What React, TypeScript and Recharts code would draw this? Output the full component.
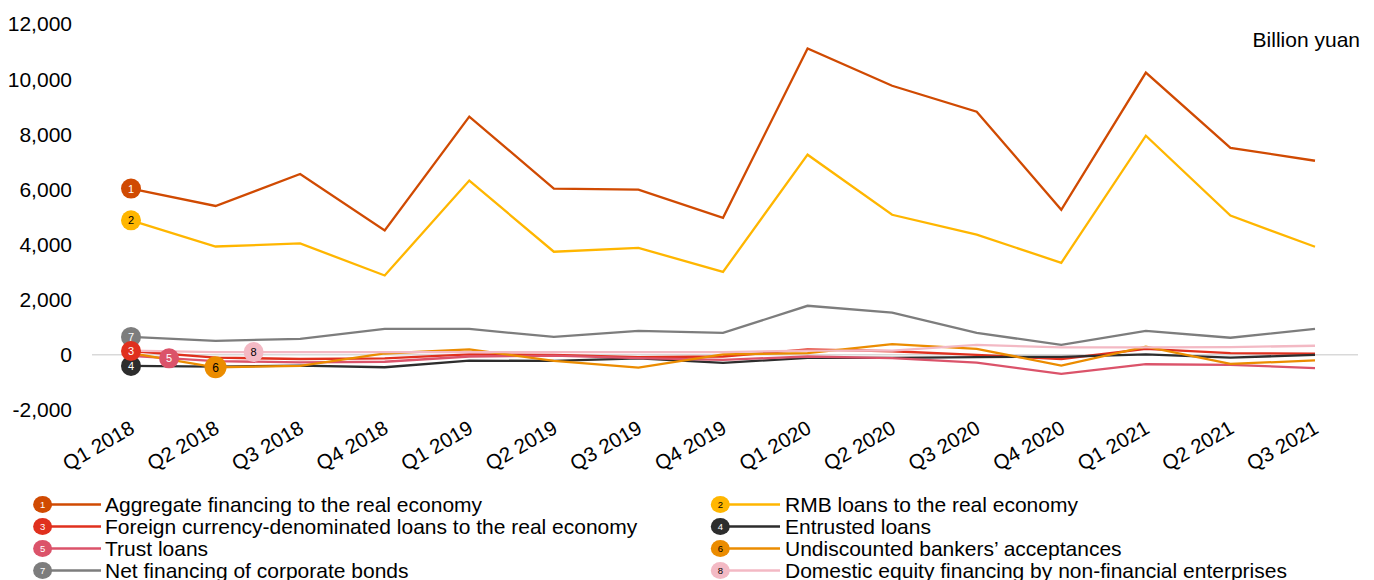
import React from 'react';
import { LineChart, Line, XAxis, YAxis, CartesianGrid } from 'recharts';

// ---------------- data ----------------
const quarters = [
  'Q1 2018', 'Q2 2018', 'Q3 2018', 'Q4 2018',
  'Q1 2019', 'Q2 2019', 'Q3 2019', 'Q4 2019',
  'Q1 2020', 'Q2 2020', 'Q3 2020', 'Q4 2020',
  'Q1 2021', 'Q2 2021', 'Q3 2021',
];

const aggregateFinancing = [6030, 5400, 6560, 4510, 8640, 6030, 5990, 4970, 11110, 9760, 8820, 5260, 10240, 7510, 7040];
const rmbLoans = [4880, 3930, 4040, 2880, 6320, 3740, 3880, 3010, 7260, 5080, 4360, 3340, 7950, 5050, 3920];
const foreignCurrencyLoans = [140, -100, -150, -130, 20, 0, -80, -60, 200, 130, 0, -150, 220, 60, 40];
const entrustedLoans = [-400, -430, -390, -450, -210, -220, -130, -290, -110, -110, -80, -70, 20, -100, 0];
const trustLoans = [-40, -230, -270, -250, -60, -30, -120, -180, -60, -120, -280, -690, -340, -360, -480];
const undiscountedAcceptances = [60, -450, -400, 50, 200, -220, -460, 20, 60, 390, 220, -390, 300, -330, -200];
const corporateBonds = [650, 510, 580, 940, 940, 650, 870, 800, 1780, 1530, 800, 360, 870, 620, 940];
const equityFinancing = [150, 100, 100, 100, 100, 100, 100, 100, 150, 150, 360, 270, 270, 280, 330];

const yTicks = [-2000, 0, 2000, 4000, 6000, 8000, 10000, 12000];
const unitLabel = 'Billion yuan';

const seriesNames = [
  'Aggregate financing to the real economy',
  'RMB loans to the real economy',
  'Foreign currency-denominated loans to the real economy',
  'Entrusted loans',
  'Trust loans',
  'Undiscounted bankers\u2019 acceptances',
  'Net financing of corporate bonds',
  'Domestic equity financing by non-financial enterprises',
];
const seriesValues = [
  aggregateFinancing, rmbLoans, foreignCurrencyLoans, entrustedLoans,
  trustLoans, undiscountedAcceptances, corporateBonds, equityFinancing,
];

// ---------------- styles ----------------
const colors = ['#D04A02', '#FFB600', '#E0301E', '#2D2D2D', '#DB536A', '#EB8C00', '#7D7D7D', '#F3B9C4'];
const numberColors = ['#fff', '#000', '#fff', '#fff', '#fff', '#000', '#fff', '#000'];
// where each numbered badge sits along its line: point index and fraction toward next point
const badgePlacement = [
  { index: 0, t: 0, r: 10 },
  { index: 0, t: 0, r: 10 },
  { index: 0, t: 0, r: 10 },
  { index: 0, t: 0, r: 10 },
  { index: 0, t: 0.45, r: 10 },
  { index: 1, t: 0, r: 11 },
  { index: 0, t: 0, r: 10 },
  { index: 1, t: 0.45, r: 10 },
];

const FONT = '"Liberation Sans", Arial, Helvetica, sans-serif';

const data = quarters.map((q, i) => {
  const row: Record<string, string | number> = { quarter: q };
  seriesValues.forEach((vals, s) => {
    row['s' + (s + 1)] = vals[i];
  });
  return row;
});

const makeBadge = (s: number) => (props: any) => {
  const { cx, cy, index, points } = props;
  const pl = badgePlacement[s];
  if (index !== pl.index) return <g key={`b-${s}-${index}`} />;
  let x = cx;
  let y = cy;
  if (pl.t > 0 && points && points[index + 1]) {
    const n = points[index + 1];
    x = cx + pl.t * (n.x - cx);
    y = cy + pl.t * (n.y - cy);
  }
  return (
    <g key={`b-${s}-${index}`}>
      <circle cx={x} cy={y} r={pl.r} fill={colors[s]} stroke="none" />
      <text
        x={x}
        y={y}
        dy="0.36em"
        textAnchor="middle"
        fontSize={s === 5 ? 12 : 11}
        fontFamily={FONT}
        fill={numberColors[s]}
      >
        {s + 1}
      </text>
    </g>
  );
};

const XTick = (props: any) => {
  const { x, y, payload } = props;
  return (
    <text
      transform={`translate(${x + 5},${y + 14}) rotate(-30)`}
      textAnchor="end"
      fontSize={20.5}
      fontFamily={FONT}
      fill="#000"
    >
      {payload.value}
    </text>
  );
};

const W = 1366;
const H = 572;
const legendRows = [496.5, 518.5, 540.5, 562.5];
const legendCols = [
  { cx: 34.6, lineEnd: 93, textX: 97 },
  { cx: 712.3, lineEnd: 772, textX: 777 },
];

export default function App() {
  const order = [0, 1, 2, 3, 4, 5, 6, 7];
  const badgeOrder = [7, 6, 5, 4, 3, 2, 1, 0];
  return (
    <div style={{ position: 'relative', width: W, height: H, fontFamily: FONT }}>
      <LineChart
        width={W}
        height={H}
        data={data}
        margin={{ top: 16, right: 16, bottom: 100, left: 0 }}
      >
        <CartesianGrid vertical={false} horizontalValues={[0]} stroke="#D9D9D9" strokeWidth={1.5} />
        <XAxis
          dataKey="quarter"
          interval={0}
          tickLine={false}
          axisLine={false}
          height={70}
          padding={{ left: 39, right: 43 }}
          tick={<XTick />}
        />
        <YAxis
          width={84}
          domain={[-2000, 12000]}
          ticks={yTicks}
          tickLine={false}
          axisLine={false}
          interval={0}
          tickFormatter={(v: number) => v.toLocaleString('en-US')}
          tick={{ fill: '#000', fontSize: 21, fontFamily: FONT, dx: -12 }}
        />
        {order.map((s) => (
          <Line
            key={'line' + s}
            type="linear"
            dataKey={'s' + (s + 1)}
            name={seriesNames[s]}
            stroke={colors[s]}
            strokeWidth={2.3}
            dot={false}
            activeDot={false}
            isAnimationActive={false}
          />
        ))}
        {badgeOrder.map((s) => (
          <Line
            key={'badge' + s}
            type="linear"
            dataKey={'s' + (s + 1)}
            stroke="none"
            legendType="none"
            dot={makeBadge(s)}
            activeDot={false}
            isAnimationActive={false}
          />
        ))}
      </LineChart>
      <svg
        width={W}
        height={H}
        style={{ position: 'absolute', left: 0, top: 0, pointerEvents: 'none' }}
      >
        <text x={1352} y={39} textAnchor="end" fontSize={21} fontFamily={FONT} fill="#000">
          {unitLabel}
        </text>
        {seriesNames.map((name, s) => {
          const col = legendCols[s % 2];
          const cy = legendRows[Math.floor(s / 2)];
          return (
            <g key={'lg' + s}>
              <line x1={col.cx} y1={cy} x2={col.lineEnd} y2={cy} stroke={colors[s]} strokeWidth={2.5} />
              <ellipse cx={col.cx} cy={cy} rx={9.5} ry={8.5} fill={colors[s]} />
              <text x={col.cx} y={cy} dy="0.36em" textAnchor="middle" fontSize={9.5} fontFamily={FONT} fill={numberColors[s]}>
                {s + 1}
              </text>
              <text x={col.textX} y={cy} dy="0.36em" fontSize={21} fontFamily={FONT} fill="#000">
                {name}
              </text>
            </g>
          );
        })}
      </svg>
    </div>
  );
}
